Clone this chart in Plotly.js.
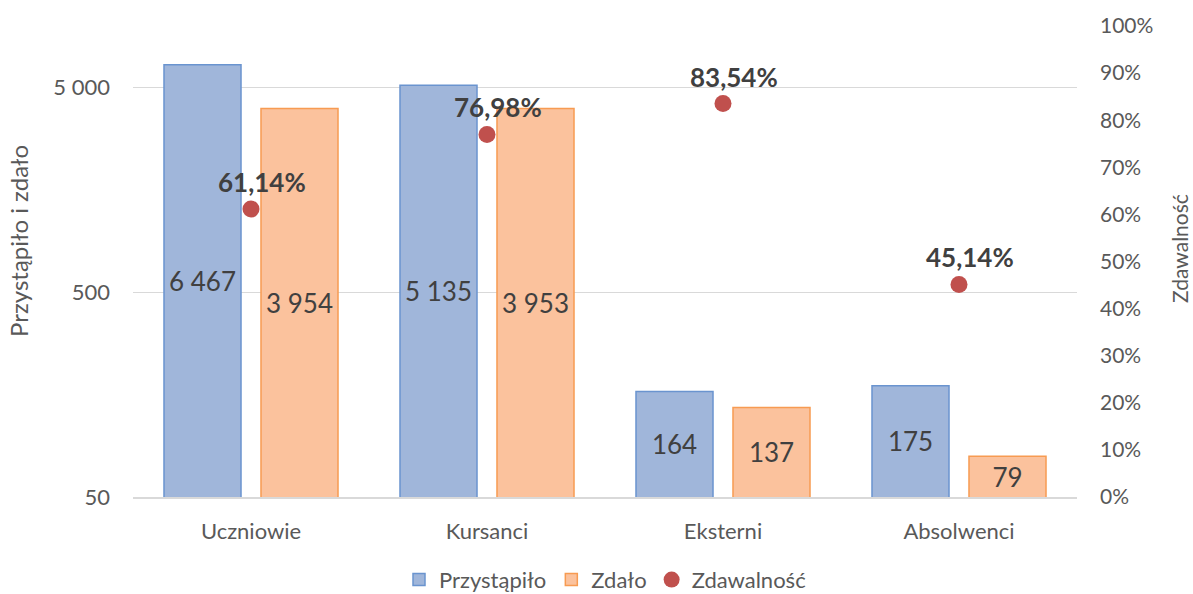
<!DOCTYPE html>
<html><head><meta charset="utf-8">
<script src="https://cdn.plot.ly/plotly-3.0.1.min.js"></script>
<style>html,body{margin:0;padding:0;background:#fff}#chart{width:1193px;height:594px}</style>
</head><body><div id="chart"></div>
<script>
const categories = ["Uczniowie", "Kursanci", "Eksterni", "Absolwenci"];
const przystapilo = [6467, 5135, 164, 175];
const zdalo = [3954, 3953, 137, 79];
const zdawalnosc = [0.6114, 0.7698, 0.8354, 0.4514];
const leftTickVals = [50, 500, 5000];
const leftTickText = ["50", "500", "5 000"];
const leftTitle = "Przystąpiło i zdało";
const rightTitle = "Zdawalność";

const fmt = v => String(v).replace(/\B(?=(\d{3})+(?!\d))/g, "\u00a0");
const pct = v => (v * 100).toFixed(2).replace(".", ",") + "%";
const font = "Lato, 'Open Sans', sans-serif";

const traces = [
  {type: "bar", name: "Przystąpiło", x: categories, y: przystapilo,
   text: przystapilo.map(fmt), textposition: "inside", insidetextanchor: "middle",
   textfont: {size: 26, color: "#404040", family: font}, hoverinfo: "y",
   marker: {color: "#a0b6da", line: {color: "#6a94cf", width: 1.5}}},
  {type: "bar", name: "Zdało", x: categories, y: zdalo,
   text: zdalo.map(fmt), textposition: "inside", insidetextanchor: "middle",
   textfont: {size: 26, color: "#404040", family: font}, hoverinfo: "y",
   marker: {color: "#fbc29d", line: {color: "#f79b52", width: 1.5}}},
  {type: "scatter", mode: "markers", name: "Zdawalność", x: categories, y: zdawalnosc,
   yaxis: "y2", marker: {color: "#c0504d", size: 17}}
];

const annotations = categories.map((c, i) => ({
  x: c, y: zdawalnosc[i], yref: "y2", xref: "x", text: "<b>" + pct(zdawalnosc[i]) + "</b>",
  showarrow: false, xshift: 11, yshift: 27, font: {size: 26, color: "#404040", family: font}
}));
annotations.push(
  {xref: "paper", yref: "paper", x: -0.1218, y: 0.5435, text: leftTitle, textangle: -90,
   showarrow: false, xanchor: "center", yanchor: "middle", font: {size: 24, color: "#595959", family: font}},
  {xref: "paper", yref: "paper", x: 1.1091, y: 0.5287, text: rightTitle, textangle: -90,
   showarrow: false, xanchor: "center", yanchor: "middle", font: {size: 21, color: "#595959", family: font}}
);

const layout = {
  width: 1193, height: 594,
  margin: {l: 133, r: 116, t: 26, b: 97, autoexpand: false},
  paper_bgcolor: "#fff", plot_bgcolor: "#fff",
  font: {family: font, color: "#595959", size: 22},
  barmode: "group", bargap: 0.178, bargroupgap: 0.206,
  showlegend: true,
  legend: {orientation: "h", x: 0.5, xanchor: "center", yref: "container", y: 0.024, yanchor: "middle",
           font: {size: 22, color: "#595959"}, itemwidth: 30, traceorder: "normal"},
  xaxis: {showgrid: false, showline: true, linecolor: "#d9d9d9", linewidth: 1.5,
          tickfont: {size: 22}, ticks: "", ticklabelstandoff: 14},
  yaxis: {type: "log", range: [Math.log10(50), 4], tickvals: leftTickVals, ticktext: leftTickText,
          showgrid: true, gridcolor: "#d9d9d9", gridwidth: 1.5, zeroline: false, showline: false,
          tickfont: {size: 22}, ticklabelstandoff: 22},
  yaxis2: {overlaying: "y", side: "right", range: [0, 1], tickformat: ".0%", dtick: 0.1,
           showgrid: false, zeroline: false, showline: false, tickfont: {size: 21}, ticklabelstandoff: 22},
  annotations: annotations
};

Plotly.newPlot("chart", traces, layout, {displayModeBar: false, staticPlot: true});
</script></body></html>
